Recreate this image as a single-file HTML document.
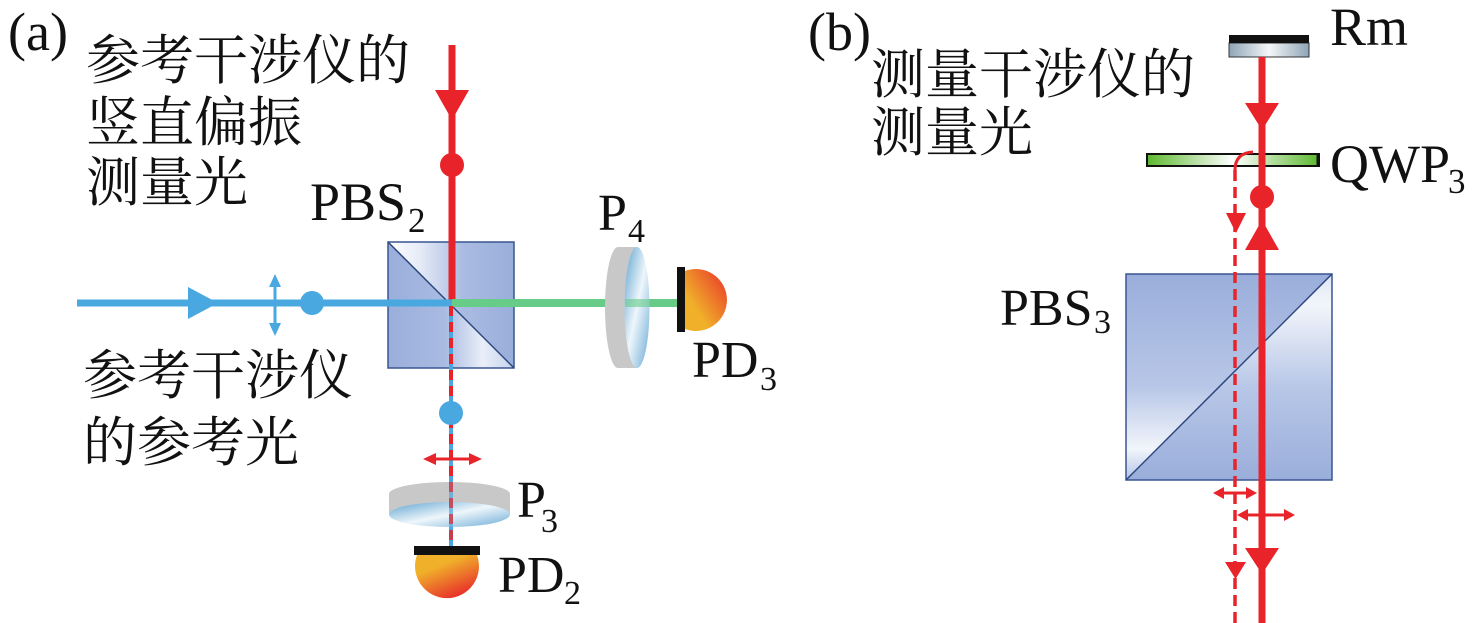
<!DOCTYPE html>
<html><head><meta charset="utf-8"><style>
html,body{margin:0;padding:0;background:#fff;}
svg{display:block;}
text.l{font-family:'Liberation Serif','Times New Roman',Times,'Nimbus Roman','DejaVu Serif',serif !important;fill:#111;}
text.c{font-family:'Liberation Serif','Noto Serif CJK SC','Noto Serif CJK','Source Han Serif SC','Noto Serif SC','AR PL UMing CN',serif !important;fill:#111;font-size:54px;}
</style></head><body>
<svg width="1476" height="623" viewBox="0 0 1476 623" xmlns="http://www.w3.org/2000/svg">
<defs>
<linearGradient id="cubeA1" x1="0" y1="0" x2="1" y2="0"><stop offset="0" stop-color="#ffffff"/><stop offset="0.25" stop-color="#e6ebf7"/><stop offset="0.6" stop-color="#a9bbe1"/><stop offset="1" stop-color="#9aaedb"/></linearGradient>
<linearGradient id="cubeA2" x1="0" y1="0" x2="1" y2="0"><stop offset="0" stop-color="#9aaedb"/><stop offset="0.45" stop-color="#a9bbe1"/><stop offset="0.75" stop-color="#e9eef8"/><stop offset="1" stop-color="#c5d1ec"/></linearGradient>
<linearGradient id="cubeB1" x1="0" y1="0" x2="0" y2="1"><stop offset="0" stop-color="#9aaedb"/><stop offset="0.55" stop-color="#b8c7e7"/><stop offset="0.85" stop-color="#f2f5fb"/><stop offset="1" stop-color="#b4c3e6"/></linearGradient>
<linearGradient id="cubeB2" x1="0" y1="0" x2="0" y2="1"><stop offset="0" stop-color="#dfe6f5"/><stop offset="0.15" stop-color="#f2f5fb"/><stop offset="0.55" stop-color="#b8c7e7"/><stop offset="1" stop-color="#9aaedb"/></linearGradient>
<linearGradient id="lensB" x1="0" y1="0" x2="1" y2="1"><stop offset="0" stop-color="#5da3d0"/><stop offset="0.5" stop-color="#eef6fb"/><stop offset="1" stop-color="#6aaad5"/></linearGradient>
<linearGradient id="pd3" x1="0" y1="1" x2="1" y2="0"><stop offset="0.3" stop-color="#f0b02a"/><stop offset="1" stop-color="#e8302a"/></linearGradient>
<linearGradient id="pd2" x1="0" y1="0" x2="0.6" y2="1"><stop offset="0.35" stop-color="#f0b02a"/><stop offset="1" stop-color="#e8302a"/></linearGradient>
<linearGradient id="rm" x1="0" y1="0" x2="1" y2="0"><stop offset="0" stop-color="#8fa5b6"/><stop offset="0.5" stop-color="#f4f7f9"/><stop offset="1" stop-color="#8fa5b6"/></linearGradient>
<linearGradient id="qwp" x1="0" y1="0" x2="1" y2="0"><stop offset="0" stop-color="#5cb82e"/><stop offset="0.5" stop-color="#ffffff"/><stop offset="1" stop-color="#5cb82e"/></linearGradient>
</defs>

<!-- ===== Panel (a) ===== -->
<text class="l" font-family="Liberation Serif, Times New Roman, serif" x="8" y="50" font-size="54">(a)</text>
<text class="c" font-family="Liberation Serif, Noto Serif CJK SC, serif" x="86" y="79">参考干涉仪的</text>
<text class="c" font-family="Liberation Serif, Noto Serif CJK SC, serif" x="86" y="141">竖直偏振</text>
<text class="c" font-family="Liberation Serif, Noto Serif CJK SC, serif" x="86" y="201">测量光</text>
<text class="c" font-family="Liberation Serif, Noto Serif CJK SC, serif" x="83" y="394">参考干涉仪</text>
<text class="c" font-family="Liberation Serif, Noto Serif CJK SC, serif" x="83" y="461">的参考光</text>

<!-- PBS2 cube -->
<polygon points="388,242 514,242 514,368" fill="url(#cubeA1)"/>
<polygon points="388,242 388,368 514,368" fill="url(#cubeA2)"/>
<rect x="388" y="242" width="126" height="126" fill="none" stroke="#3a5592" stroke-width="1.5"/>
<line x1="388" y1="242" x2="514" y2="368" stroke="#2c4680" stroke-width="1.5"/>
<text class="l" font-family="Liberation Serif, Times New Roman, serif" x="310" y="220" font-size="54">PBS</text>
<text class="l" font-family="Liberation Serif, Times New Roman, serif" x="408" y="232" font-size="35">2</text>

<!-- red incoming beam -->
<line x1="452" y1="45" x2="452" y2="303" stroke="#e8242a" stroke-width="7"/>
<polygon points="435,90 469,90 452,120" fill="#e8242a"/>
<circle cx="452" cy="165" r="12" fill="#e8242a"/>

<!-- blue beam -->
<line x1="77" y1="303" x2="452" y2="303" stroke="#4aa8e0" stroke-width="7"/>
<polygon points="188,287 218,303 188,319" fill="#4aa8e0"/>
<line x1="275" y1="282" x2="275" y2="328" stroke="#4aa8e0" stroke-width="3"/>
<polygon points="269,287 281,287 275,274" fill="#4aa8e0"/>
<polygon points="269,323 281,323 275,336" fill="#4aa8e0"/>
<circle cx="312" cy="303" r="12" fill="#4aa8e0"/>

<!-- green beam -->
<line x1="452" y1="303" x2="678" y2="303" stroke="#66cc88" stroke-width="8"/>

<!-- P4 lens -->
<rect x="618" y="247" width="19" height="121" fill="#c8c8c8"/>
<ellipse cx="618" cy="307.5" rx="13" ry="60.5" fill="#c8c8c8"/>
<ellipse cx="637" cy="307.5" rx="12.5" ry="60.5" fill="url(#lensB)"/>
<line x1="625" y1="303" x2="650" y2="303" stroke="#66cc88" stroke-width="8" opacity="0.6"/>
<line x1="650" y1="303" x2="678" y2="303" stroke="#66cc88" stroke-width="8"/>
<text class="l" font-family="Liberation Serif, Times New Roman, serif" x="598" y="230" font-size="52">P</text>
<text class="l" font-family="Liberation Serif, Times New Roman, serif" x="628" y="242" font-size="34">4</text>

<!-- PD3 -->
<path d="M685,271 A31,31 0 1 1 685,329 Z" fill="url(#pd3)"/>
<rect x="677" y="267" width="8" height="65" fill="#111"/>
<text class="l" font-family="Liberation Serif, Times New Roman, serif" x="692" y="377" font-size="52">PD</text>
<text class="l" font-family="Liberation Serif, Times New Roman, serif" x="760" y="390" font-size="34">3</text>

<!-- dashed down beam -->
<line x1="451" y1="306" x2="451" y2="546" stroke="#4aa8e0" stroke-width="4"/>
<line x1="451" y1="306" x2="451" y2="546" stroke="#e8242a" stroke-width="4" stroke-dasharray="10 6"/>
<circle cx="451" cy="413" r="12" fill="#4aa8e0"/>
<line x1="430" y1="459" x2="475" y2="459" stroke="#e8242a" stroke-width="3"/>
<polygon points="423,459 436,453 436,465" fill="#e8242a"/>
<polygon points="482,459 469,453 469,465" fill="#e8242a"/>

<!-- P3 lens -->
<rect x="389" y="494" width="121" height="20" fill="#c8c8c8"/>
<ellipse cx="449.5" cy="494" rx="60.5" ry="12" fill="#c8c8c8"/>
<ellipse cx="449.5" cy="514.5" rx="60.5" ry="12.5" fill="url(#lensB)"/>
<line x1="451" y1="482" x2="451" y2="546" stroke="#4aa8e0" stroke-width="4" opacity="0.7"/>
<line x1="451" y1="482" x2="451" y2="546" stroke="#e8242a" stroke-width="4" stroke-dasharray="10 6" opacity="0.7"/>
<text class="l" font-family="Liberation Serif, Times New Roman, serif" x="517" y="517" font-size="52">P</text>
<text class="l" font-family="Liberation Serif, Times New Roman, serif" x="541" y="532" font-size="34">3</text>

<!-- PD2 -->
<path d="M417,555 A32,32 0 1 0 477,555 Z" fill="url(#pd2)"/>
<rect x="414" y="546" width="66" height="9" fill="#111"/>
<text class="l" font-family="Liberation Serif, Times New Roman, serif" x="498" y="592" font-size="52">PD</text>
<text class="l" font-family="Liberation Serif, Times New Roman, serif" x="564" y="604" font-size="34">2</text>

<!-- ===== Panel (b) ===== -->
<text class="l" font-family="Liberation Serif, Times New Roman, serif" x="808" y="50" font-size="54">(b)</text>
<text class="c" font-family="Liberation Serif, Noto Serif CJK SC, serif" x="871" y="93">测量干涉仪的</text>
<text class="c" font-family="Liberation Serif, Noto Serif CJK SC, serif" x="871" y="151">测量光</text>

<!-- PBS3 cube -->
<polygon points="1126,274 1332,274 1126,480" fill="url(#cubeB1)"/>
<polygon points="1332,274 1332,480 1126,480" fill="url(#cubeB2)"/>
<rect x="1126" y="274" width="206" height="206" fill="none" stroke="#3a5592" stroke-width="1.5"/>
<line x1="1126" y1="480" x2="1332" y2="274" stroke="#2c4680" stroke-width="1.5"/>
<text class="l" font-family="Liberation Serif, Times New Roman, serif" x="1000" y="325" font-size="52">PBS</text>
<text class="l" font-family="Liberation Serif, Times New Roman, serif" x="1094" y="333" font-size="34">3</text>

<!-- Rm -->
<rect x="1229" y="43" width="80" height="14" fill="url(#rm)" stroke="#333" stroke-width="1"/>
<rect x="1229" y="35" width="80" height="8" fill="#111"/>
<text class="l" font-family="Liberation Serif, Times New Roman, serif" x="1330" y="45" font-size="54">Rm</text>

<!-- main red beam -->
<line x1="1262" y1="57" x2="1262" y2="623" stroke="#e8242a" stroke-width="7"/>

<!-- QWP3 -->
<rect x="1147" y="154" width="172" height="12" fill="url(#qwp)" stroke="#111" stroke-width="2"/>
<line x1="1318" y1="153" x2="1318" y2="167" stroke="#111" stroke-width="3"/>
<line x1="1262" y1="150" x2="1262" y2="170" stroke="#e8242a" stroke-width="7"/>
<text class="l" font-family="Liberation Serif, Times New Roman, serif" x="1330" y="182" font-size="54">QWP</text>
<text class="l" font-family="Liberation Serif, Times New Roman, serif" x="1448" y="193" font-size="35">3</text>

<polygon points="1245,103 1279,103 1262,130" fill="#e8242a"/>
<circle cx="1262" cy="197" r="12" fill="#e8242a"/>
<polygon points="1262,220 1245,250 1279,250" fill="#e8242a"/>
<polygon points="1245,548 1279,548 1262,574" fill="#e8242a"/>

<!-- dashed return beam -->
<path d="M1235,170 Q1235,153 1253,152" fill="none" stroke="#e8242a" stroke-width="3"/>
<line x1="1235" y1="170" x2="1235" y2="623" stroke="#e8242a" stroke-width="3.5" stroke-dasharray="11 6"/>
<polygon points="1226,213 1246,213 1236,233" fill="#e8242a"/>
<polygon points="1225,562 1246,562 1235.5,579" fill="#e8242a"/>

<!-- double arrows -->
<line x1="1220" y1="493" x2="1250" y2="493" stroke="#e8242a" stroke-width="3"/>
<polygon points="1213,493 1224,487 1224,499" fill="#e8242a"/>
<polygon points="1257,493 1246,487 1246,499" fill="#e8242a"/>
<line x1="1244" y1="515" x2="1288" y2="515" stroke="#e8242a" stroke-width="3"/>
<polygon points="1237,515 1248,509 1248,521" fill="#e8242a"/>
<polygon points="1295,515 1284,509 1284,521" fill="#e8242a"/>
</svg>
</body></html>
